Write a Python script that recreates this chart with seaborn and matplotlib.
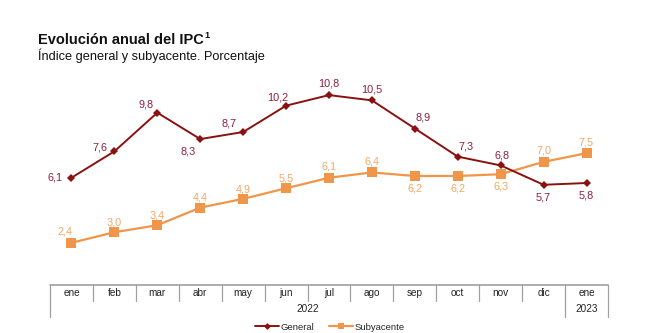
import matplotlib
matplotlib.use("Agg")
import matplotlib.pyplot as plt
import seaborn as sns
import pandas as pd
import numpy as np

months = ["ene", "feb", "mar", "abr", "may", "jun", "jul", "ago", "sep", "oct", "nov", "dic", "ene"]
years = ["2022", "2023"]
general = [6.1, 7.6, 9.8, 8.3, 8.7, 10.2, 10.8, 10.5, 8.9, 7.3, 6.8, 5.7, 5.8]
subyacente = [2.4, 3.0, 3.4, 4.4, 4.9, 5.5, 6.1, 6.4, 6.2, 6.2, 6.3, 7.0, 7.5]

sns.set_theme(style="white")
plt.rcParams['font.family'] = ['Liberation Sans', 'DejaVu Sans']

C_GEN = "#8B1111"
C_GEN_TXT = "#8E1F3F"
C_SUB = "#F0964A"
C_SUB_TXT = "#F4A865"

fig = plt.figure(figsize=(6.52, 3.33), dpi=100)
W, H = 652, 333

def ax_rect(x0, y0, x1, y1):
    return [x0 / W, 1 - y1 / H, (x1 - x0) / W, (y1 - y0) / H]

ax = fig.add_axes(ax_rect(50, 74, 608, 285))
x = np.arange(len(months))
df = pd.DataFrame({"x": x, "General": general, "Subyacente": subyacente})

sns.lineplot(data=df, x="x", y="Subyacente", ax=ax, color=C_SUB, lw=1.6,
             marker="s", markersize=6.5, markeredgewidth=0, label="Subyacente")
sns.lineplot(data=df, x="x", y="General", ax=ax, color=C_GEN, lw=1.4,
             marker="D", markersize=4.5, markeredgewidth=0, label="General")
ax.set_xlim(-0.5, len(months) - 0.5)
ax.set_ylim(0, 12)
ax.axis("off")
ax.get_legend().remove()

# label offsets in points (dx, dy)
gen_off = [(-12, 0), (-10, 3), (-8, 6), (-9, -9), (-10, 6), (-6, 6), (0, 8), (0, 8),
           (6, 8), (6, 7), (1, 7), (0, -9), (0, -9)]
sub_off = [(-5, 8), (0, 7), (0, 7), (0, 7), (0, 7), (0, 7), (0, 8), (0, 8),
           (0, -9), (0, -9), (0, -9), (0, 8), (0, 8)]
for i in range(len(months)):
    ax.annotate(f"{general[i]:.1f}".replace(".", ","), (x[i], general[i]),
                xytext=gen_off[i], textcoords="offset points", ha="center", va="center",
                fontsize=7.8, color=C_GEN_TXT)
    ax.annotate(f"{subyacente[i]:.1f}".replace(".", ","), (x[i], subyacente[i]),
                xytext=sub_off[i], textcoords="offset points", ha="center", va="center",
                fontsize=7.8, color=C_SUB_TXT)

# category table below
tax = fig.add_axes(ax_rect(50, 285, 608, 317))
tax.set_xlim(-0.5, len(months) - 0.5)
tax.set_ylim(0, 2)
tax.axis("off")
gc = "#A0A0A0"
tax.plot([-0.5, len(months) - 0.5], [2, 2], color=gc, lw=1.2, clip_on=False)
for b in range(len(months) + 1):
    xb = b - 0.5
    full = b in (0, len(months) - 1, len(months))
    tax.plot([xb, xb], [0 if full else 1, 2], color=gc, lw=0.9, clip_on=False)
for i, m in enumerate(months):
    tax.text(i, 1.5, m, ha="center", va="center", fontsize=7.2, color="#222222")
tax.text(5.5, 0.5, years[0], ha="center", va="center", fontsize=7.2, color="#222222")
tax.text(12, 0.5, years[1], ha="center", va="center", fontsize=7.2, color="#222222")

# legend
from matplotlib.lines import Line2D
handles = [Line2D([], [], color=C_GEN, lw=1.4, marker="D", markersize=3.5, markeredgewidth=0),
           Line2D([], [], color=C_SUB, lw=1.6, marker="s", markersize=4.5, markeredgewidth=0)]
fig.legend(handles, ["General", "Subyacente"], loc="center", bbox_to_anchor=(330 / W, 1 - 327 / H),
           ncol=2, frameon=False, fontsize=6.8, handlelength=2.5, handletextpad=0.2,
           columnspacing=1.6)

t = fig.text(38 / W, 1 - 40 / H, "Evolución anual del IPC", fontsize=10.5, fontweight="bold",
             ha="left", va="center", color="#111111")
fig.canvas.draw()
bb = t.get_window_extent()
fig.text((bb.x1 + 1) / W, 1 - 35 / H, "1", fontsize=6.5, fontweight="bold",
         ha="left", va="center", color="#111111")
fig.text(38 / W, 1 - 56 / H, "Índice general y subyacente. Porcentaje", fontsize=9.2,
         ha="left", va="center", color="#111111")

fig.savefig("out.png", dpi=100)
